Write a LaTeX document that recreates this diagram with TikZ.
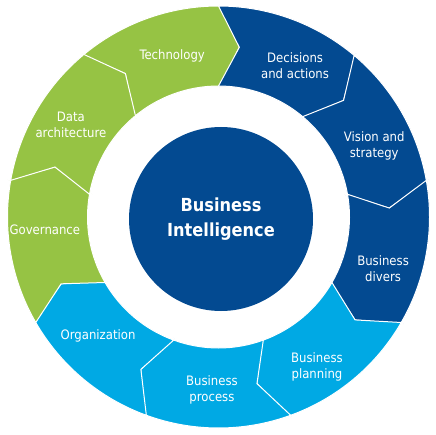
\documentclass[tikz,border=0pt]{standalone}
\usepackage{fontspec}
\setmainfont{DejaVu Sans Condensed}
\usetikzlibrary{calc}
\definecolor{bigreen}{RGB}{150,195,68}
\definecolor{bidark}{RGB}{3,74,145}
\definecolor{bilight}{RGB}{0,169,228}

\begin{document}
\begin{tikzpicture}[
    % white labels on the ring
    every node/.style={text=white, align=center, font=\fontsize{13}{16}\selectfont},
    % one chevron piece of the ring
    segment/.style={draw=white, line width=1pt, line join=miter}
  ]
  % --- Define dimensions of the ring ---
  \def\Rout{211pt}   % outer radius of the ring
  \def\Rin{131pt}    % inner radius of the ring
  \def\Rmid{171pt}   % radius of the chevron tip
  \def\Bout{214pt}   % outer barb of the head
  \def\Bin{128pt}    % inner barb of the head
  \def\Tip{7}        % angular reach of the tip

  \useasboundingbox (0,0) rectangle (436pt,434pt);

  % --- Draw the nine chevrons, clockwise from Technology ---
  % start angle / colour / label angle / label radius / label
  \begin{scope}[shift={(218.5pt,217pt)}]
    \foreach \a/\col/\la/\lr/\txt [count=\i, evaluate=\a as \b using \a-40] in {
        130/bigreen/105.8/170/Technology,
        90/bidark/63.4/171/{Decisions\\and actions},
        50/bidark/25.1/172/{Vision and\\strategy},
        10/bidark/-16.9/172/{Business\\divers},
        -30/bilight/-56.4/178/{Business\\planning},
        -70/bilight/-92.2/171/{Business\\process},
        -110/bilight/-135.8/168/Organization,
        -150/bigreen/183.6/174/Governance,
        170/bigreen/147.5/175/{Data\\architecture}} {
      \filldraw[segment, fill=\col] (\a:\Rout)
          arc[start angle=\a, end angle=\b, radius=\Rout]
          -- (\b:\Bout) -- (\b-\Tip:\Rmid) -- (\b:\Bin) -- (\b:\Rin)
          arc[start angle=\b, end angle=\a, radius=\Rin]
          -- (\a-\Tip:\Rmid) -- cycle;
      \node[yshift=-2pt] (lbl\i) at (\la:\lr pt) {\txt};
    }
  \end{scope}

  % --- Centre disc ---
  \node[circle, fill=bidark, minimum size=184pt,
        font=\bfseries\fontsize{18}{25}\selectfont] (core) at (221pt,215pt) {Business\\Intelligence};
\end{tikzpicture}
\end{document}
